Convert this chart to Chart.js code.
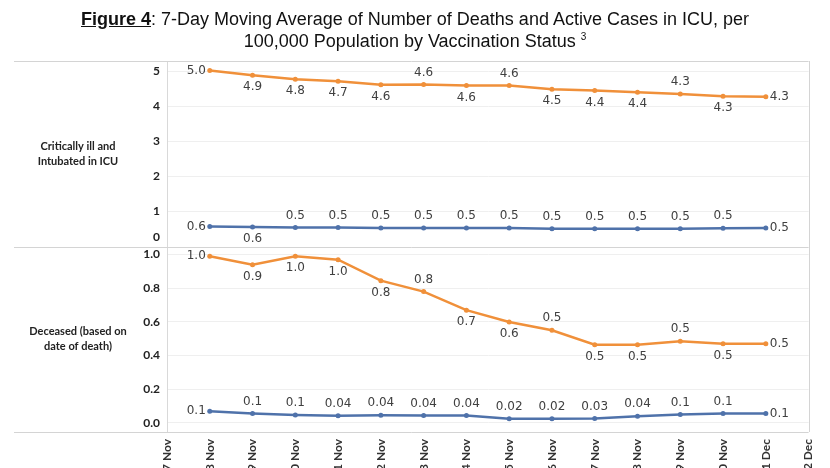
<!DOCTYPE html>
<html>
<head>
<meta charset="utf-8">
<script src="https://cdn.jsdelivr.net/npm/chart.js@4.4.1/dist/chart.umd.min.js"></script>
<style>
  html, body { margin: 0; padding: 0; background: #fff; overflow: hidden; }
  body { width: 830px; height: 468px; position: relative; }
  #wrap { position: absolute; left: 0; top: 0; width: 830px; height: 490px; }
  #title {
    position: absolute; top: 8px; left: 0; width: 830px; text-align: center;
    font-family: "Liberation Sans", Arial, sans-serif; font-size: 18px; line-height: 22px; color: #111;
  }
  #title b { text-decoration: underline; }
  #title sup { font-size: 10px; vertical-align: 7px; line-height: 0; }
</style>
</head>
<body>
<div id="wrap"><canvas id="chart"></canvas></div>
<div id="title"><b>Figure 4</b>: 7-Day Moving Average of Number of Deaths and Active Cases in ICU, per<br>100,000 Population by Vaccination Status <sup>3</sup></div>
<script>
// ------------------------------------------------------------
//  Data
// ------------------------------------------------------------
const dates = ['17 Nov', '18 Nov', '19 Nov', '20 Nov', '21 Nov', '22 Nov', '23 Nov', '24 Nov',
               '25 Nov', '26 Nov', '27 Nov', '28 Nov', '29 Nov', '30 Nov', '1 Dec', '2 Dec'];

const icuTicks = [0, 1, 2, 3, 4, 5];
const deathTicks = [0, 0.2, 0.4, 0.6, 0.8, 1.0];

const panelNames = [
    ['Critically ill and', 'Intubated in ICU'],
    ['Deceased (based on', 'date of death)']
];

const icuOrange = [null, 5.03, 4.89, 4.78, 4.72, 4.62, 4.63, 4.6, 4.6, 4.49, 4.46, 4.41, 4.36, 4.29, 4.28, null];
const icuBlue = [null, 0.57, 0.56, 0.54, 0.54, 0.53, 0.53, 0.53, 0.53, 0.51, 0.51, 0.51, 0.51, 0.52, 0.53, null];
const deathOrange = [null, 0.99, 0.94, 0.99, 0.97, 0.845, 0.78, 0.67, 0.6, 0.55, 0.465, 0.465, 0.485, 0.47, 0.47, null];
const deathBlue = [null, 0.07, 0.056, 0.047, 0.042, 0.045, 0.044, 0.044, 0.024, 0.024, 0.026, 0.04, 0.05, 0.056, 0.056, null];

// value labels as printed in the figure
const icuOrangeText = [null, '5.0', '4.9', '4.8', '4.7', '4.6', '4.6', '4.6', '4.6', '4.5', '4.4', '4.4', '4.3', '4.3', '4.3', null];
const icuBlueText = [null, '0.6', '0.6', '0.5', '0.5', '0.5', '0.5', '0.5', '0.5', '0.5', '0.5', '0.5', '0.5', '0.5', '0.5', null];
const deathOrangeText = [null, '1.0', '0.9', '1.0', '1.0', '0.8', '0.8', '0.7', '0.6', '0.5', '0.5', '0.5', '0.5', '0.5', '0.5', null];
const deathBlueText = [null, '0.1', '0.1', '0.1', '0.04', '0.04', '0.04', '0.04', '0.02', '0.02', '0.03', '0.04', '0.1', '0.1', '0.1', null];

// where each label sits: a = above, b = below, l = left, r = right
const icuOrangeSide = ['', 'l', 'b', 'b', 'b', 'b', 'a', 'b', 'a', 'b', 'b', 'b', 'a', 'b', 'r', ''];
const icuBlueSide = ['', 'l', 'b', 'a', 'a', 'a', 'a', 'a', 'a', 'a', 'a', 'a', 'a', 'a', 'r', ''];
const deathOrangeSide = ['', 'l', 'b', 'b', 'b', 'b', 'a', 'b', 'b', 'a', 'b', 'b', 'a', 'b', 'r', ''];
const deathBlueSide = ['', 'l', 'a', 'a', 'a', 'a', 'a', 'a', 'a', 'a', 'a', 'a', 'a', 'a', 'r', ''];

const ORANGE = '#F0903A';
const BLUE = '#4F72AA';

// ------------------------------------------------------------
//  Plugins
// ------------------------------------------------------------
const valueLabels = {
    id: 'valueLabels',
    afterDatasetsDraw(chart) {
        const ctx = chart.ctx;
        ctx.save();
        ctx.font = '12px "DejaVu Sans"';
        ctx.fillStyle = '#404040';
        chart.data.datasets.forEach((ds, i) => {
            const meta = chart.getDatasetMeta(i);
            meta.data.forEach((pt, j) => {
                const txt = ds.valueText[j];
                if (!txt || ds.data[j] == null) return;
                const side = ds.valueSide[j] || 'a';
                let x = pt.x, y = pt.y;
                ctx.textBaseline = 'middle';
                ctx.textAlign = 'center';
                if (side === 'a') y -= 12;
                else if (side === 'b') y += 12;
                else if (side === 'l') { ctx.textAlign = 'right'; x -= 4; }
                else if (side === 'r') { ctx.textAlign = 'left'; x += 4; }
                ctx.fillText(txt, x, y);
            });
        });
        ctx.restore();
    }
};

const panelFrame = {
    id: 'panelFrame',
    afterDraw(chart) {
        const { ctx, chartArea: a, scales } = chart;
        const mid = scales.yIcu.bottom;
        ctx.save();
        ctx.strokeStyle = '#d4d4d4';
        ctx.lineWidth = 1;
        ctx.beginPath();
        [a.top, mid, a.bottom].forEach(y => {
            ctx.moveTo(14, Math.round(y) + 0.5);
            ctx.lineTo(a.right, Math.round(y) + 0.5);
        });
        ctx.moveTo(Math.round(a.right) + 0.5, a.top);
        ctx.lineTo(Math.round(a.right) + 0.5, a.bottom);
        ctx.stroke();

        // panel captions on the far left
        ctx.font = 'bold 11px Lato';
        ctx.fillStyle = '#222';
        ctx.textAlign = 'center';
        ctx.textBaseline = 'middle';
        [[scales.yIcu, panelNames[0]], [scales.yDeath, panelNames[1]]].forEach(([s, lines]) => {
            const c = (s.top + s.bottom) / 2;
            lines.forEach((t, k) => ctx.fillText(t, 78, c + (k - (lines.length - 1) / 2) * 15));
        });

        // the top panel's zero label sits just above the divider
        ctx.font = 'bold 12px Lato';
        ctx.textAlign = 'right';
        ctx.fillText(String(icuTicks[0]), a.left - 7, scales.yIcu.getPixelForValue(icuTicks[0]) - 9);
        ctx.restore();
    }
};

// ------------------------------------------------------------
//  Chart
// ------------------------------------------------------------
const tickFont = { family: 'Lato', size: 12, weight: 'bold' };

function line(data, text, side, color, axis) {
    return {
        data: data,
        valueText: text,
        valueSide: side,
        yAxisID: axis,
        borderColor: color,
        backgroundColor: color,
        borderWidth: 2.5,
        pointRadius: 2.5,
        pointBorderWidth: 0,
        pointBackgroundColor: color,
        tension: 0,
        spanGaps: false
    };
}

new Chart(document.getElementById('chart'), {
    type: 'line',
    data: {
        labels: dates,
        datasets: [
            line(icuOrange, icuOrangeText, icuOrangeSide, ORANGE, 'yIcu'),
            line(icuBlue, icuBlueText, icuBlueSide, BLUE, 'yIcu'),
            line(deathOrange, deathOrangeText, deathOrangeSide, ORANGE, 'yDeath'),
            line(deathBlue, deathBlueText, deathBlueSide, BLUE, 'yDeath')
        ]
    },
    options: {
        responsive: true,
        maintainAspectRatio: false,
        animation: false,
        layout: { padding: { top: 61, left: 107, right: 18, bottom: 0 } },
        plugins: {
            legend: { display: false },
            tooltip: { enabled: false }
        },
        scales: {
            x: {
                type: 'category',
                offset: false,
                grid: { display: false, drawTicks: false },
                border: { display: false },
                afterFit: s => { s.height = 58; },
                ticks: {
                    autoSkip: false,
                    minRotation: 90,
                    maxRotation: 90,
                    padding: 7,
                    color: '#333',
                    font: { family: 'Lato', size: 12, weight: 'bold' }
                }
            },
            yIcu: {
                type: 'linear',
                position: 'left',
                stack: 'panels',
                stackWeight: 1,
                weight: 2,
                min: 0,
                max: 5.3,
                afterBuildTicks: s => { s.ticks = icuTicks.filter(v => v > 0).map(v => ({ value: v })); },
                afterFit: s => { s.width = 60; },
                grid: { color: '#efefef', drawTicks: false },
                border: { color: '#d9d9d9' },
                ticks: { padding: 7, color: '#222', font: tickFont, callback: v => String(v) }
            },
            yDeath: {
                type: 'linear',
                position: 'left',
                stack: 'panels',
                stackWeight: 1,
                weight: 1,
                min: -0.054,
                max: 1.048,
                afterBuildTicks: s => { s.ticks = deathTicks.map(v => ({ value: v })); },
                afterFit: s => { s.width = 60; },
                grid: { color: '#efefef', drawTicks: false },
                border: { color: '#d9d9d9' },
                ticks: { padding: 7, color: '#222', font: tickFont, callback: v => v.toFixed(1) }
            }
        }
    },
    plugins: [valueLabels, panelFrame]
});
</script>
</body>
</html>
